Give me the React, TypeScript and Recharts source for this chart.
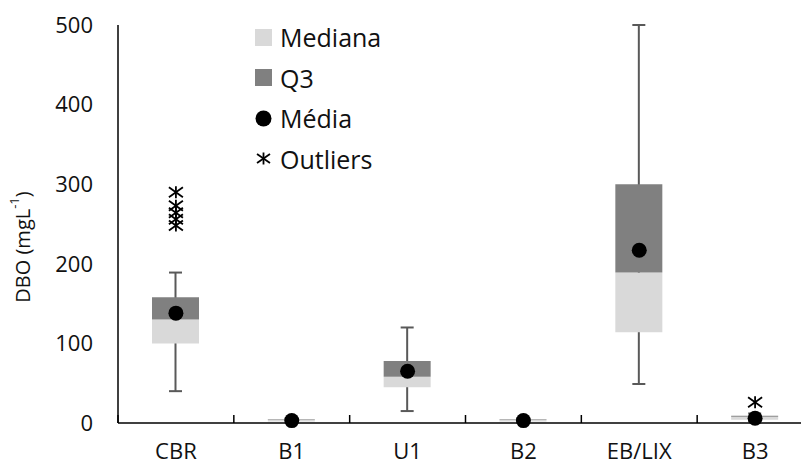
import {
  Bar,
  ComposedChart,
  Label,
  Scatter,
  XAxis,
  YAxis,
} from "recharts";

const categories = ["CBR", "B1", "U1", "B2", "EB/LIX", "B3"];
const minValues = [40, 1, 15, 1, 49, 2];
const q1Values = [100, 2, 45, 2, 114, 4];
const medianValues = [130, 4.5, 58, 4.5, 189, 8];
const q3Values = [158, 5, 78, 5, 300, 9];
const maxValues = [189, 6, 120, 6, 500, 12];
const meanValues = [138, 3, 65, 3, 217, 6];
const outlierValues = [[290, 273, 264, 256, 248], [], [], [], [], [26]];
const yTicks = [0, 100, 200, 300, 400, 500];

const FONT = "'Open Sans', sans-serif";
const LIGHT = "#d9d9d9";
const DARK = "#808080";
const WHISKER = "#595959";
const TEXT = "#111";

const data = categories.map((name, i) => {
  const row: Record<string, any> = {
    name,
    base: q1Values[i],
    lower: medianValues[i] - q1Values[i],
    upper: q3Values[i] - medianValues[i],
    whisker: [minValues[i], maxValues[i]],
    mean: meanValues[i],
  };
  outlierValues[i].forEach((v, k) => {
    row["o" + k] = v;
  });
  return row;
});

const outlierKeys = [0, 1, 2, 3, 4].map((k) => "o" + k);

function Whisker(props: any) {
  const { x, y, width, height } = props;
  if (height == null) return null;
  const cx = x + width / 2;
  return (
    <g stroke={WHISKER} strokeWidth={2}>
      <line x1={cx} y1={y} x2={cx} y2={y + height} />
      <line x1={x} y1={y} x2={x + width} y2={y} />
      <line x1={x} y1={y + height} x2={x + width} y2={y + height} />
    </g>
  );
}

function MeanDot(props: any) {
  const { cx, cy } = props;
  if (cx == null || cy == null) return null;
  return <circle cx={cx} cy={cy} r={7.5} fill="#000" />;
}

function Star(props: any) {
  const { cx, cy } = props;
  if (cx == null || cy == null || props.payload == null) return null;
  return (
    <g stroke="#000" strokeWidth={1.8}>
      <line x1={cx - 7} y1={cy - 5} x2={cx + 7} y2={cy + 5} />
      <line x1={cx - 7} y1={cy + 5} x2={cx + 7} y2={cy - 5} />
      <line x1={cx} y1={cy - 6} x2={cx} y2={cy + 6} />
    </g>
  );
}

// category labels plus Excel-style ticks on the band edges, pointing up
function CatTick(props: any) {
  const { x, y, payload, index } = props;
  const half = payload.offset ?? 57.9;
  const axisY = y - 27;
  return (
    <g>
      <line x1={x - half} y1={axisY} x2={x - half} y2={axisY - 8} stroke="#000" strokeWidth={1.5} />
      {index === categories.length - 1 && (
        <line x1={x + half} y1={axisY} x2={x + half} y2={axisY - 8} stroke="#000" strokeWidth={1.5} />
      )}
      <text x={x} y={axisY + 36} textAnchor="middle" fill={TEXT} fontSize={22} fontFamily={FONT}>
        {payload.value}
      </text>
    </g>
  );
}

function YTitle(props: any) {
  const vb = props.viewBox || { x: 0, y: 25, width: 118, height: 398 };
  const cx = 22;
  const cy = vb.y + vb.height / 2 + 23;
  return (
    <text
      x={cx}
      y={cy}
      transform={`rotate(-90, ${cx}, ${cy})`}
      textAnchor="middle"
      dominantBaseline="central"
      fill={TEXT}
      fontSize={20}
      fontFamily={FONT}
    >
      DBO (mgL
      <tspan fontSize={13} dy={-8}>-1</tspan>
      <tspan dy={8}>)</tspan>
    </text>
  );
}

function LegendBox() {
  const rows: { label: string; icon: any }[] = [
    { label: "Mediana", icon: <rect x={0} y={0} width={17} height={17} fill={LIGHT} /> },
    { label: "Q3", icon: <rect x={0} y={0} width={17} height={17} fill={DARK} /> },
    { label: "Média", icon: <circle cx={8.5} cy={8.5} r={8} fill="#000" /> },
    {
      label: "Outliers",
      icon: (
        <g stroke="#000" strokeWidth={1.8}>
          <line x1={2} y1={4} x2={15} y2={13} />
          <line x1={2} y1={13} x2={15} y2={4} />
          <line x1={8.5} y1={2.5} x2={8.5} y2={14.5} />
        </g>
      ),
    },
  ];
  return (
    <div style={{ position: "absolute", left: 255, top: 17, fontFamily: FONT, fontSize: 25, color: TEXT }}>
      {rows.map((r) => (
        <div key={r.label} style={{ display: "flex", alignItems: "center", height: 40.5 }}>
          <svg width={17} height={17} style={{ marginRight: 8 }}>
            {r.icon}
          </svg>
          <span>{r.label}</span>
        </div>
      ))}
    </div>
  );
}

export default function App() {
  return (
    <div
      style={{
        position: "absolute",
        left: 0,
        top: 0,
        width: 801,
        height: 466,
        overflow: "hidden",
        fontFamily: FONT,
        background: "#fff",
      }}
    >
      <ComposedChart
        width={813}
        height={466}
        data={data}
        margin={{ top: 25, right: 0, bottom: 0, left: 0 }}
        barGap={0}
      >
        <XAxis
          xAxisId="cat"
          dataKey="name"
          height={43}
          axisLine={{ stroke: "#000", strokeWidth: 1.5 }}
          tickLine={false}
          tickSize={6}
          tickMargin={21}
          interval={0}
          tick={<CatTick />}
        />
        <XAxis xAxisId="w" dataKey="name" hide />
        <YAxis
          type="number"
          domain={[0, 500]}
          ticks={yTicks}
          width={118}
          axisLine={{ stroke: "#000", strokeWidth: 1.5 }}
          tickLine={false}
          tickSize={0}
          tickMargin={25}
          tick={{ fill: TEXT, fontSize: 22, fontFamily: FONT }}
        >
          <Label content={<YTitle />} />
        </YAxis>
        <Bar xAxisId="w" dataKey="whisker" barSize={13} shape={<Whisker />} isAnimationActive={false} />
        <Bar xAxisId="cat" dataKey="base" stackId="box" fill="none" barSize={47} isAnimationActive={false} />
        <Bar xAxisId="cat" dataKey="lower" stackId="box" fill={LIGHT} barSize={47} isAnimationActive={false} />
        <Bar xAxisId="cat" dataKey="upper" stackId="box" fill={DARK} barSize={47} isAnimationActive={false} />
        <Scatter xAxisId="cat" dataKey="mean" shape={<MeanDot />} isAnimationActive={false} />
        {outlierKeys.map((k) => (
          <Scatter key={k} xAxisId="cat" dataKey={k} shape={<Star />} isAnimationActive={false} />
        ))}
      </ComposedChart>
      <LegendBox />
    </div>
  );
}
